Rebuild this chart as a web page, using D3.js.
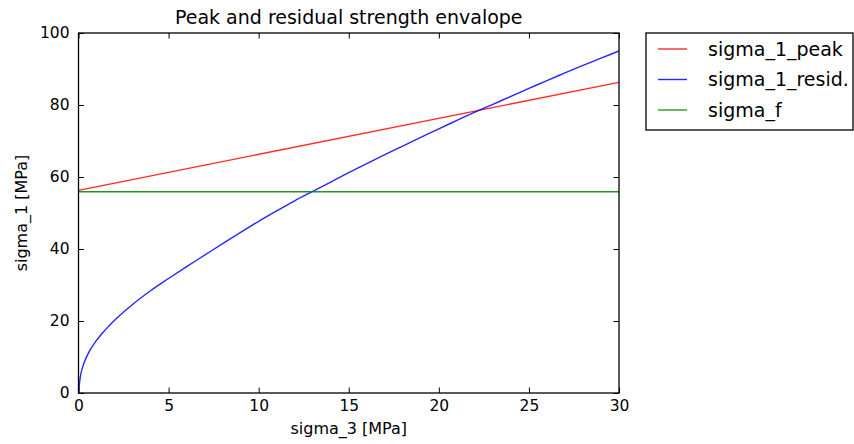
<!DOCTYPE html>
<html>
<head>
<meta charset="utf-8">
<script src="https://cdn.jsdelivr.net/npm/d3@7"></script>
<style>
  html, body { margin: 0; padding: 0; background: #fff; }
  svg { display: block; font-family: "DejaVu Sans", sans-serif; }
</style>
</head>
<body>
<svg id="chart" width="854" height="444"></svg>
<script>
// Confining stress sigma_3 [MPa] and the matching major principal stress sigma_1 [MPa]
const sigma3Resid = [0, 0.1, 0.25, 0.5, 1, 1.5, 2, 3, 4, 5, 6, 7, 8, 9, 10, 11, 12, 13, 14, 15,
                     16, 17, 18, 19, 20, 21, 22, 23, 24, 25, 26, 27, 28, 29, 30];
const sigma1Resid = [0, 4.5, 7.5, 10.6, 14.6, 17.6, 20.2, 24.6, 28.4, 31.8, 35.1, 38.3, 41.5, 44.6,
                     47.7, 50.6, 53.4, 56.0, 58.6, 61.2, 63.7, 66.2, 68.6, 71.0, 73.4, 75.7, 78.0,
                     80.2, 82.4, 84.6, 86.8, 88.9, 91.0, 93.0, 95.0];
const sigma3Peak = [0, 30];
const sigma1Peak = [56.3, 86.3];
const sigma3F = [0, 30];
const sigmaF = [55.9, 55.9];

const xTicks = [0, 5, 10, 15, 20, 25, 30];
const yTicks = [0, 20, 40, 60, 80, 100];

const seriesNames = ["sigma_1_peak", "sigma_1_resid.", "sigma_f"];
const seriesColors = ["#ff0000", "#0000ff", "#008000"];

const svg = d3.select("#chart");
const plot = { left: 78.5, right: 619, top: 33, bottom: 393 };

const x = d3.scaleLinear().domain([0, 30]).range([plot.left, plot.right]);
const y = d3.scaleLinear().domain([0, 100]).range([plot.bottom, plot.top]);

const series = [
  { name: seriesNames[0], color: seriesColors[0], xs: sigma3Peak, ys: sigma1Peak },
  { name: seriesNames[1], color: seriesColors[1], xs: sigma3Resid, ys: sigma1Resid },
  { name: seriesNames[2], color: seriesColors[2], xs: sigma3F, ys: sigmaF }
];

// clip lines to the axes area
svg.append("defs").append("clipPath").attr("id", "clip")
  .append("rect")
  .attr("x", plot.left).attr("y", plot.top)
  .attr("width", plot.right - plot.left).attr("height", plot.bottom - plot.top);

const line = d3.line().x(d => x(d[0])).y(d => y(d[1])).curve(d3.curveMonotoneX);

const lines = svg.append("g").attr("clip-path", "url(#clip)");
series.forEach(s => {
  lines.append("path")
    .datum(s.xs.map((v, i) => [v, s.ys[i]]))
    .attr("fill", "none")
    .attr("stroke", s.color)
    .attr("stroke-opacity", 0.85)
    .attr("stroke-width", 1.4)
    .attr("d", line);
});

// axes with inward ticks on all four sides
const tickLen = 5.5;
const bottomAxis = d3.axisBottom(x).tickValues(xTicks).tickSizeInner(-tickLen).tickSizeOuter(0).tickPadding(7);
const topAxis = d3.axisTop(x).tickValues(xTicks).tickSizeInner(-tickLen).tickSizeOuter(0).tickFormat("");
const leftAxis = d3.axisLeft(y).tickValues(yTicks).tickSizeInner(-tickLen).tickSizeOuter(0).tickPadding(9);
const rightAxis = d3.axisRight(y).tickValues(yTicks).tickSizeInner(-tickLen).tickSizeOuter(0).tickFormat("");

function styleAxis(g) {
  g.select(".domain").remove();
  g.selectAll(".tick line").attr("stroke", "#000").attr("stroke-width", 1);
  g.selectAll(".tick text").attr("fill", "#000").style("font-size", "15.5px")
    .style("font-family", "DejaVu Sans");
}

svg.append("g").attr("transform", `translate(0,${plot.bottom})`).call(bottomAxis).call(styleAxis)
  .selectAll(".tick text").attr("dy", "0.71em");
svg.append("g").attr("transform", `translate(0,${plot.top})`).call(topAxis).call(styleAxis);
svg.append("g").attr("transform", `translate(${plot.left},0)`).call(leftAxis).call(styleAxis);
svg.append("g").attr("transform", `translate(${plot.right},0)`).call(rightAxis).call(styleAxis);

// frame
svg.append("rect")
  .attr("x", plot.left).attr("y", plot.top)
  .attr("width", plot.right - plot.left).attr("height", plot.bottom - plot.top)
  .attr("fill", "none").attr("stroke", "#000").attr("stroke-width", 1.3);

// title and axis labels
svg.append("text")
  .attr("x", (plot.left + plot.right) / 2).attr("y", 24)
  .attr("text-anchor", "middle").style("font-size", "19px").attr("fill", "#000")
  .text("Peak and residual strength envalope");

svg.append("text")
  .attr("x", (plot.left + plot.right) / 2).attr("y", 434)
  .attr("text-anchor", "middle").style("font-size", "16px").attr("fill", "#000")
  .text("sigma_3 [MPa]");

svg.append("text")
  .attr("transform", `translate(27,${(plot.top + plot.bottom) / 2}) rotate(-90)`)
  .attr("text-anchor", "middle").style("font-size", "16px").attr("fill", "#000")
  .text("sigma_1 [MPa]");

// legend
const legend = svg.append("g");
legend.append("rect")
  .attr("x", 646).attr("y", 33).attr("width", 207).attr("height", 97)
  .attr("fill", "#fff").attr("stroke", "#000").attr("stroke-width", 1.3);
const rowY = d3.scalePoint().domain(seriesNames).range([49, 110]);
series.forEach(s => {
  legend.append("line")
    .attr("x1", 658).attr("x2", 687)
    .attr("y1", rowY(s.name)).attr("y2", rowY(s.name))
    .attr("stroke", s.color).attr("stroke-opacity", 0.85).attr("stroke-width", 1.4);
  legend.append("text")
    .attr("x", 708).attr("y", rowY(s.name)).attr("dy", "0.35em")
    .style("font-size", "19px").attr("fill", "#000")
    .text(s.name);
});
</script>
</body>
</html>
